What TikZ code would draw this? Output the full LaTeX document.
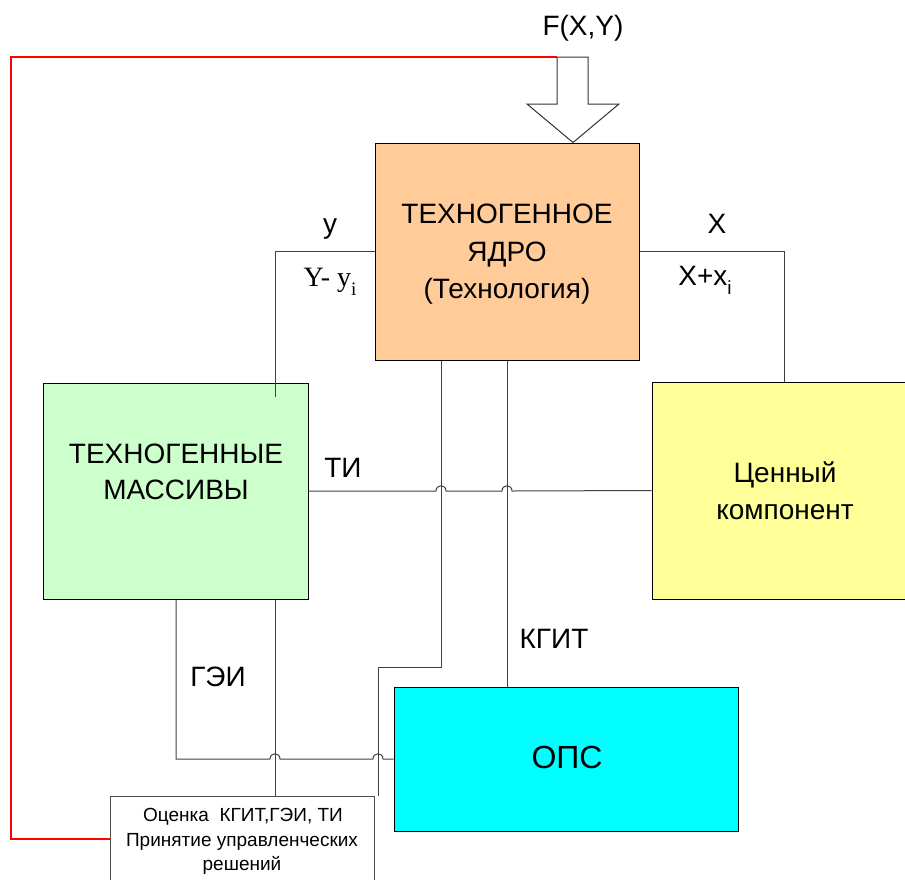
\documentclass[tikz,border=0pt]{standalone}
\usepackage{fontspec}
\setmainfont{Liberation Sans}
\newfontfamily\serifff{Liberation Serif}
\definecolor{coreC}{HTML}{FFCC99}
\definecolor{greenC}{HTML}{CCFFCC}
\definecolor{yellowC}{HTML}{FFFF99}
\definecolor{cyanC}{HTML}{00FFFF}
\tikzset{
  blk/.style={draw=black, line width=1pt, rectangle, inner sep=0pt},
  conn/.style={draw=black!75, line width=1pt},
  redline/.style={color=red, line width=1.2pt},
  lbl/.style={font=\fontsize{28}{34}\selectfont, anchor=base, inner sep=0pt},
  small/.style={font=\fontsize{19}{23}\selectfont, anchor=base, inner sep=0pt}
}
\begin{document}
\begin{tikzpicture}[x=1pt,y=-1pt]
\useasboundingbox (0,0) rectangle (905,879);
% boxes
\node[blk, fill=coreC, minimum width=264pt, minimum height=217pt] (core) at (507,251.5) {};
\node[blk, fill=greenC, minimum width=265pt, minimum height=216pt] (green) at (175.5,491) {};
\node[blk, fill=yellowC, minimum width=265pt, minimum height=217pt] (yellow) at (784.5,490.5) {};
\node[blk, fill=cyanC, minimum width=344pt, minimum height=144pt] (ops) at (566,759) {};
\node[blk, draw=black!70, minimum width=264pt, minimum height=94pt] (ocenka) at (242,843) {};
% named free ends
\coordinate (gIn) at (275,397);
\coordinate (k1) at (441,667);
\coordinate (k2) at (378,796);
\coordinate (g1) at (176,759);
\coordinate (r0) at (110,839);
\coordinate (rA) at (11,839);
\coordinate (rB) at (11,57);
\coordinate (aTL) at (557,57);
% connectors
\draw[conn] (core.west) -| (gIn);
\draw[conn] (core.east) -| (yellow.north);
\draw[conn] (green.east) -- (436,491) .. controls (436,484) and (446,484) .. (446,491)
  -- (502,491) .. controls (502,484) and (512,484) .. (512,491) -- (yellow.west);
\draw[conn] (core.south -| k1) -- (k1) -| (k2);
\draw[conn] (core.south) -- (core.south |- ops.north);
\draw[conn] (green.south -| g1) -- (g1) -- (270,759) .. controls (270,752) and (280,752) .. (280,759)
  -- (373,759) .. controls (373,752) and (383,752) .. (383,759) -- (ops.west |- g1);
\draw[conn] (green.south -| gIn) -- (ocenka.north -| gIn);
\draw[redline] (r0) -- (rA) -- (rB) -- (aTL);
% big arrow
\draw[draw=black!80, fill=white, line width=1pt, line join=miter]
  (aTL) -- (588,57) -- (588,104) -- (619,104) -- (core.north -| 573,0) -- (527,104) -- (557,104) -- cycle;
% labels
\node[lbl] (fxy) at (583,35) {F(X,Y)};
\node[lbl] (ly) at (330,233) {y};
\node[lbl] (lX) at (717,233) {X};
\node[lbl, font=\fontsize{28}{34}\selectfont\serifff] (lYy) at (330,286) {Y- y\raisebox{-9pt}{\fontsize{19}{22}\selectfont i}};
\node[lbl] (lXx) at (705,285) {X+x\raisebox{-9pt}{\fontsize{19}{22}\selectfont i}};
\node[lbl] (c1) at (507,223) {ТЕХНОГЕННОЕ};
\node[lbl] (c2) at (507,261) {ЯДРО};
\node[lbl] (c3) at (507,298) {(Технология)};
\node[lbl] (m1) at (176,463) {ТЕХНОГЕННЫЕ};
\node[lbl] (m2) at (176,499) {МАССИВЫ};
\node[lbl] (ti) at (343,477) {ТИ};
\node[lbl] (v1) at (785,482) {Ценный};
\node[lbl] (v2) at (785,519) {компонент};
\node[lbl] (gei) at (218,686) {ГЭИ};
\node[lbl] (kgit) at (554,648) {КГИТ};
\node[lbl, font=\fontsize{32}{38}\selectfont] (opsT) at (567,768) {ОПС};
\node[small] (o1) at (243,821) {Оценка\ \ КГИТ,ГЭИ, ТИ};
\node[small] (o2) at (242,846) {Принятие управленческих};
\node[small] (o3) at (242,870) {решений};
\end{tikzpicture}
\end{document}
